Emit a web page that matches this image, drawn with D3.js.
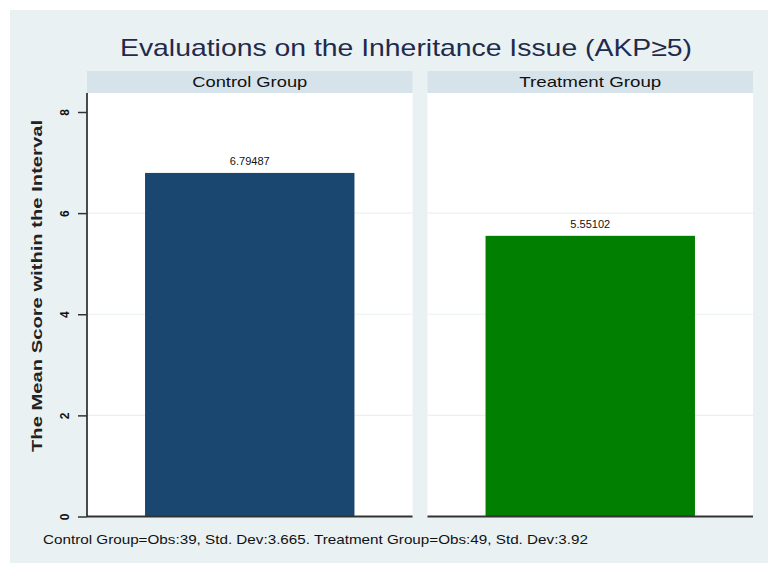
<!DOCTYPE html>
<html>
<head>
<meta charset="utf-8">
<script src="https://cdn.jsdelivr.net/npm/d3@7"></script>
<style>
  body { margin: 0; background: #ffffff; }
  text { font-family: "Liberation Sans", Arial, sans-serif; }
</style>
</head>
<body>
<svg id="chart" width="768" height="563"></svg>
<script>
// data
var GROUPS = ["Control Group", "Treatment Group"]
var MEANS = [6.79487, 5.55102]
var OBS = [39, 49]
var STD_DEVS = ["3.665", "3.92"]
var BAR_COLORS = ["#1a476f", "#007f00"]
var Y_TICKS = [0, 2, 4, 6, 8]
var GRID_TICKS = [2, 4, 6]
var TITLE = "Evaluations on the Inheritance Issue (AKP\u22655)"
var Y_TITLE = "The Mean Score within the Interval"

var svg = d3.select("#chart")

// background
svg.append("rect")
  .attr("x", 10).attr("y", 10)
  .attr("width", 758).attr("height", 553)
  .attr("fill", "#eaf1f3")

svg.append("text")
  .attr("x", 406).attr("y", 56)
  .attr("text-anchor", "middle")
  .attr("font-size", 24)
  .attr("fill", "#1f2b4c")
  .attr("textLength", 572)
  .attr("lengthAdjust", "spacingAndGlyphs")
  .text(TITLE)

var panel = d3.scaleBand()
  .domain(GROUPS)
  .range([87, 753])
  .paddingInner(0.044)

var y = d3.scaleLinear()
  .domain([0, 8])
  .range([516.5, 112])

var plotTop = 93

// one panel per group
GROUPS.forEach(function(g, i){
  var px = panel(g)
  var pw = panel.bandwidth()
  var gp = svg.append("g").attr("transform", "translate(" + px + ",0)")

  // header strip
  gp.append("rect")
    .attr("x", 0).attr("y", 71)
    .attr("width", pw).attr("height", 22)
    .attr("fill", "#d7e3ea")
  gp.append("text")
    .attr("x", pw / 2).attr("y", 87)
    .attr("text-anchor", "middle")
    .attr("font-size", 15)
    .attr("fill", "#111")
    .attr("textLength", i === 0 ? 115 : 142)
    .attr("lengthAdjust", "spacingAndGlyphs")
    .text(g)

  // plot area
  gp.append("rect")
    .attr("x", 0).attr("y", plotTop)
    .attr("width", pw).attr("height", y(0) - plotTop)
    .attr("fill", "#ffffff")

  gp.selectAll(".grid")
    .data(GRID_TICKS)
    .enter()
    .append("line")
      .attr("class", "grid")
      .attr("x1", 0).attr("x2", pw)
      .attr("y1", function(d){ return y(d) })
      .attr("y2", function(d){ return y(d) })
      .attr("stroke", "#eaf1f3")
      .attr("stroke-width", 1.2)

  var x = d3.scaleBand()
    .domain([g])
    .range([0, pw])
    .padding(0.217)

  gp.append("rect")
    .attr("x", x(g))
    .attr("y", y(MEANS[i]))
    .attr("width", x.bandwidth())
    .attr("height", y(0) - y(MEANS[i]))
    .attr("fill", BAR_COLORS[i])

  gp.append("text")
    .attr("x", x(g) + x.bandwidth() / 2)
    .attr("y", y(MEANS[i]) - 8)
    .attr("text-anchor", "middle")
    .attr("font-size", 11)
    .attr("fill", "#111")
    .text(MEANS[i])

  // baseline
  gp.append("line")
    .attr("x1", 0).attr("x2", pw)
    .attr("y1", y(0)).attr("y2", y(0))
    .attr("stroke", "#333")
    .attr("stroke-width", 2)
})

// y axis on the first panel
var yAxis = d3.axisLeft(y)
  .tickValues(Y_TICKS)
  .tickSize(9)
  .tickPadding(6)
  .tickSizeOuter(0)

var ga = svg.append("g")
  .attr("transform", "translate(87,0)")
  .call(yAxis)

ga.select(".domain")
  .attr("d", "M0," + plotTop + "V" + y(0))
  .attr("stroke", "#111")
  .attr("stroke-width", 1.5)
ga.selectAll(".tick line").attr("stroke", "#333").attr("stroke-width", 1.5)
ga.selectAll(".tick text")
  .attr("font-size", 12)
  .attr("font-weight", "bold")
  .attr("fill", "#111")
  .attr("font-family", "Liberation Sans, Arial, sans-serif")
  .attr("x", -21)
  .attr("dy", "0")
  .attr("transform", "rotate(-90,-21,0)")
  .attr("text-anchor", "middle")
  .attr("dominant-baseline", "middle")

svg.append("text")
  .attr("transform", "translate(42," + 286 + ") rotate(-90)")
  .attr("text-anchor", "middle")
  .attr("font-size", 15)
  .attr("font-weight", "bold")
  .attr("fill", "#222")
  .attr("textLength", 332)
  .attr("lengthAdjust", "spacingAndGlyphs")
  .text(Y_TITLE)

// note
var note = GROUPS.map(function(g, i){
  return g + "=Obs:" + OBS[i] + ", Std. Dev:" + STD_DEVS[i]
}).join(". ")

svg.append("text")
  .attr("x", 43).attr("y", 544)
  .attr("font-size", 13)
  .attr("fill", "#111")
  .attr("textLength", 545)
  .attr("lengthAdjust", "spacingAndGlyphs")
  .text(note)
</script>
</body>
</html>
